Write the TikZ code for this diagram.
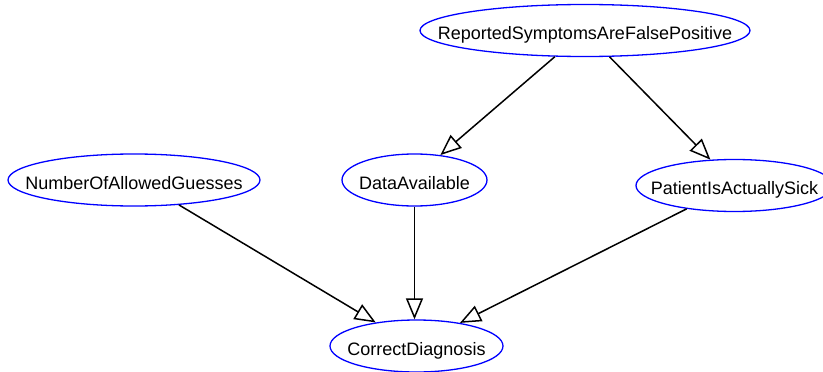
\documentclass[tikz,border=0pt]{standalone}
\usepackage{fontspec}
\setmainfont{Liberation Sans}
\usetikzlibrary{shapes.geometric,arrows.meta}
\newcommand{\vname}[1]{\makebox[0pt]{#1}}
\begin{document}
\begin{tikzpicture}[x=1pt, y=-1pt,
        vertex/.style={ellipse, draw=blue, line width=1.3pt, inner sep=0pt,
            minimum height=52pt, text height=18pt, text depth=0pt,
            font=\fontsize{18}{20}\selectfont},
        edge/.style={line width=1.5pt, -{Triangle[open, length=21pt, width=17pt]}}]
        \def \Rx {585};
        \def \Ry {30.5};
        \def \Nx {134};
        \def \Ny {180};
        \def \Dx {414.5};
        \def \Dy {180};
        \def \Px {734.5};
        \def \Py {185.5};
        \def \Cx {416.5};
        \def \Cy {346};

        % рамка
        \useasboundingbox ( 0, 0 ) rectangle ( 823, 372 );

        % вершины
        \node [vertex, minimum width=330pt] (symptoms) at ( \Rx, \Ry ) {\vname{ReportedSymptomsAreFalsePositive}};
        \node [vertex, minimum width=252pt] (guesses) at ( \Nx, \Ny ) {\vname{NumberOfAllowedGuesses}};
        \node [vertex, minimum width=145pt] (data) at ( \Dx, \Dy ) {\vname{DataAvailable}};
        \node [vertex, minimum width=197pt] (sick) at ( \Px, \Py ) {\vname{PatientIsActuallySick}};
        \node [vertex, minimum width=173pt] (diagnosis) at ( \Cx, \Cy ) {\vname{CorrectDiagnosis}};

        % рёбра
        \draw [edge] (symptoms.221) -- (data.44);
        \draw [edge] (symptoms.313) -- (sick.133);
        \draw [edge] (guesses.331) -- (diagnosis.150);
        \draw [edge] (data.south) -- (data.south |- diagnosis.north);
        \draw [edge] (sick.206) -- (diagnosis.28);
    \end{tikzpicture}
\end{document}
